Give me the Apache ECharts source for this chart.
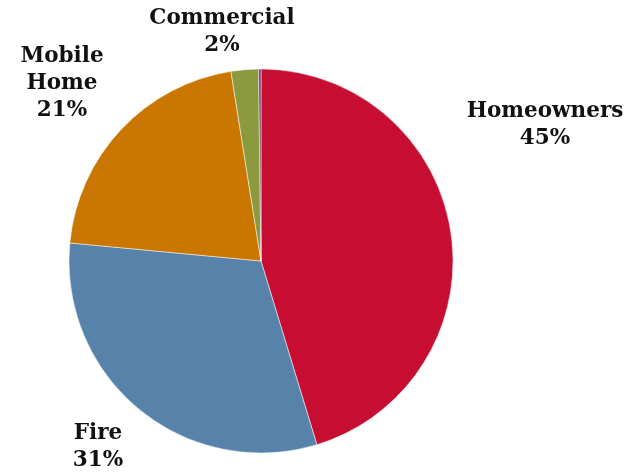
<!DOCTYPE html>
<html>
<head>
<meta charset="utf-8">
<script src="https://cdn.jsdelivr.net/npm/echarts@6/dist/echarts.min.js"></script>
<style>
  html, body { margin: 0; padding: 0; background: #fff; }
  #chart { width: 640px; height: 472px; }
</style>
</head>
<body>
<div id="chart"></div>
<script>
// data (share of policies, %)
var categories = ['Homeowners', 'Fire', 'Mobile\nHome', 'Commercial', 'Other'];
var shares = [45.3, 31.2, 21.0, 2.3, 0.2];
var showLabel = [true, true, true, true, false];

// styles
var colors = ['#c70d32', '#5783ab', '#c97700', '#8a9a3c', '#7a3b6a'];
// label centres in px (Excel style placement)
var labelPos = [[545, 125], [98, 447], [62, 83], [222, 32], [260, 40]];

var chart = echarts.init(document.getElementById('chart'));

chart.setOption({
  animation: false,
  series: [{
    type: 'pie',
    center: [261, 261],
    radius: 192,
    startAngle: 90,
    clockwise: true,
    avoidLabelOverlap: false,
    itemStyle: { borderColor: '#fff', borderWidth: 0.5 },
    label: {
      show: true,
      position: 'outside',
      fontFamily: 'DejaVu Serif',
      fontWeight: 'bold',
      fontSize: 21.5,
      lineHeight: 27,
      color: '#111',
      align: 'center',
      formatter: function (p) {
        return p.name + '\n' + Math.round(p.value) + '%';
      }
    },
    labelLine: { show: false },
    labelLayout: function (params) {
      var pos = labelPos[params.dataIndex];
      return { x: pos[0], y: pos[1], align: 'center', verticalAlign: 'middle' };
    },
    emphasis: { disabled: true },
    data: categories.map(function (name, i) {
      return {
        name: name,
        value: shares[i],
        itemStyle: { color: colors[i] },
        label: { show: showLabel[i] }
      };
    })
  }]
});
</script>
</body>
</html>
